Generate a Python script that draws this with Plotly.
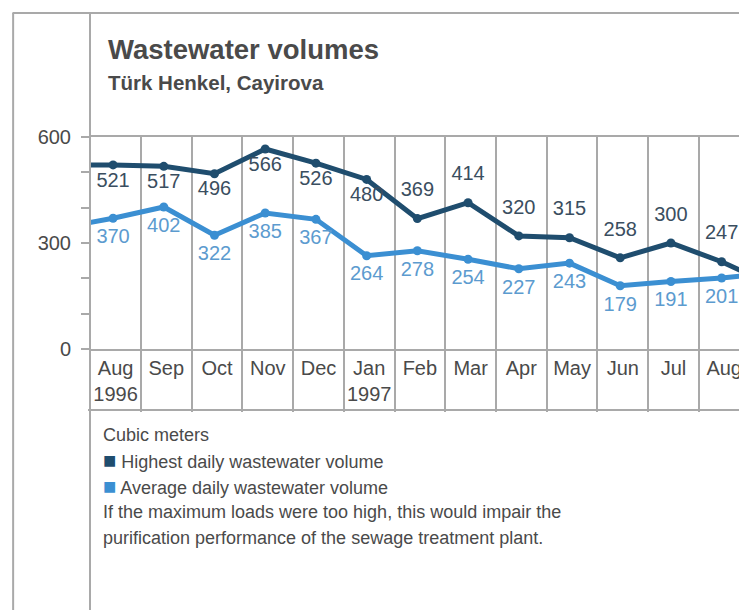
import plotly.graph_objects as go

# ---------------- data ----------------
month_labels = ["Jul", "Aug<br>1996", "Sep", "Oct", "Nov", "Dec", "Jan<br>1997",
                "Feb", "Mar", "Apr", "May", "Jun", "Jul", "Aug", "Sep"]
highest = [521, 521, 517, 496, 566, 526, 480, 369, 414, 320, 315, 258, 300, 247, 181]
average = [344, 370, 402, 322, 385, 367, 264, 278, 254, 227, 243, 179, 191, 201, 216]
shown = [False] + [True] * 13 + [False]   # first/last months lie outside the visible window
y_ticks = [0, 100, 200, 300, 400, 500, 600]
y_tick_text = ["0", "", "", "300", "", "", "600"]

# ---------------- styles ----------------
DARK = "#1f4d6e"
LIGHT = "#3b8fd2"
DARK_TXT = "#3a4e60"
LIGHT_TXT = "#5c9bcf"
GRID = "#a9a9a9"
TXT = "#4a4a4a"
FONT = "Liberation Sans, Arial, sans-serif"

dark_label_pos = ["bottom center"] * 7 + ["top center"] * 8
dark_label_gap = [9] * 7 + [26] * 8

xs = list(range(-1, len(highest) - 1))
hi_text = [str(v) if s else "" for v, s in zip(highest, shown)]
av_text = [str(v) if s else "" for v, s in zip(average, shown)]

fig = go.Figure()
fig.add_trace(go.Scatter(x=xs, y=average, mode="lines+markers",
                         line=dict(color=LIGHT, width=5),
                         marker=dict(color=LIGHT, size=9), hoverinfo="skip"))
fig.add_trace(go.Scatter(x=xs, y=highest, mode="lines+markers",
                         line=dict(color=DARK, width=5),
                         marker=dict(color=DARK, size=9), hoverinfo="skip"))
# value labels
fig.add_trace(go.Scatter(x=xs, y=average, mode="markers+text", text=av_text,
                         textposition="bottom center",
                         textfont=dict(family=FONT, size=20, color=LIGHT_TXT),
                         marker=dict(size=14, opacity=0), hoverinfo="skip"))
fig.add_trace(go.Scatter(x=xs, y=highest, mode="markers+text", text=hi_text,
                         textposition=dark_label_pos,
                         textfont=dict(family=FONT, size=20, color=DARK_TXT),
                         marker=dict(size=dark_label_gap, opacity=0), hoverinfo="skip"))

vis = [i for i, s in zip(xs, shown) if s]
fig.update_xaxes(
    range=[-0.455, 12.5],
    tickmode="array",
    tickvals=[i + 0.05 for i in vis],
    ticktext=[m for m, s in zip(month_labels, shown) if s],
    ticks="", showgrid=False, zeroline=False,
    showline=True, linecolor=GRID, linewidth=2, mirror=True,
    tickfont=dict(family=FONT, size=20, color=TXT),
    minor=dict(tickmode="array", tickvals=[i - 0.45 for i in vis] + [vis[-1] + 0.55],
               ticks="outside", ticklen=61, tickwidth=2, tickcolor=GRID,
               showgrid=True, gridcolor=GRID, gridwidth=2),
)
fig.update_yaxes(
    range=[0, 600], tickmode="array", tickvals=y_ticks, ticktext=y_tick_text,
    ticks="outside", ticklen=8, tickwidth=2, tickcolor=GRID,
    showgrid=False, zeroline=False, showline=False,
    ticklabelstandoff=6,
    tickfont=dict(family=FONT, size=20, color=TXT),
)

line = dict(color=GRID, width=2)
note_font = dict(family=FONT, size=18, color=TXT)


def note(text, y):
    return dict(text=text, xref="paper", yref="paper", x=0.0167, y=y,
                xanchor="left", yanchor="middle", showarrow=False, font=note_font)


fig.update_layout(
    width=747, height=610,
    margin=dict(l=82, r=8, t=129, b=269),
    paper_bgcolor="white", plot_bgcolor="white",
    showlegend=False,
    shapes=[
        dict(type="line", xref="paper", yref="paper", x0=0, x1=0, y0=1.585, y1=-1.3, line=line),
        dict(type="line", xref="paper", yref="paper", x0=-0.117, x1=-0.117, y0=1.585, y1=-1.3, line=line),
        dict(type="line", xref="paper", yref="paper", x0=-0.118, x1=1.02, y0=1.585, y1=1.585, line=line),
        dict(type="line", xref="paper", yref="paper", x0=-0.003, x1=1.02, y0=-0.2877, y1=-0.2877, line=line),
    ],
    annotations=[
        dict(text="<b>Wastewater volumes</b>", xref="paper", yref="paper", x=0.0244, y=1.415,
             xanchor="left", yanchor="middle", showarrow=False,
             font=dict(family=FONT, size=27.5, color=TXT)),
        dict(text="<b>Türk Henkel, Cayirova</b>", xref="paper", yref="paper", x=0.0244, y=1.259,
             xanchor="left", yanchor="middle", showarrow=False,
             font=dict(family=FONT, size=20.5, color=TXT)),
        note("Cubic meters", -0.406),
        note(f"<span style='color:{DARK};font-size:22px'>■</span> Highest daily wastewater volume", -0.526),
        note(f"<span style='color:{LIGHT};font-size:22px'>■</span> Average daily wastewater volume", -0.648),
        note("If the maximum loads were too high, this would impair the", -0.771),
        note("purification performance of the sewage treatment plant.", -0.892),
    ],
)

fig.write_html("out.html")
